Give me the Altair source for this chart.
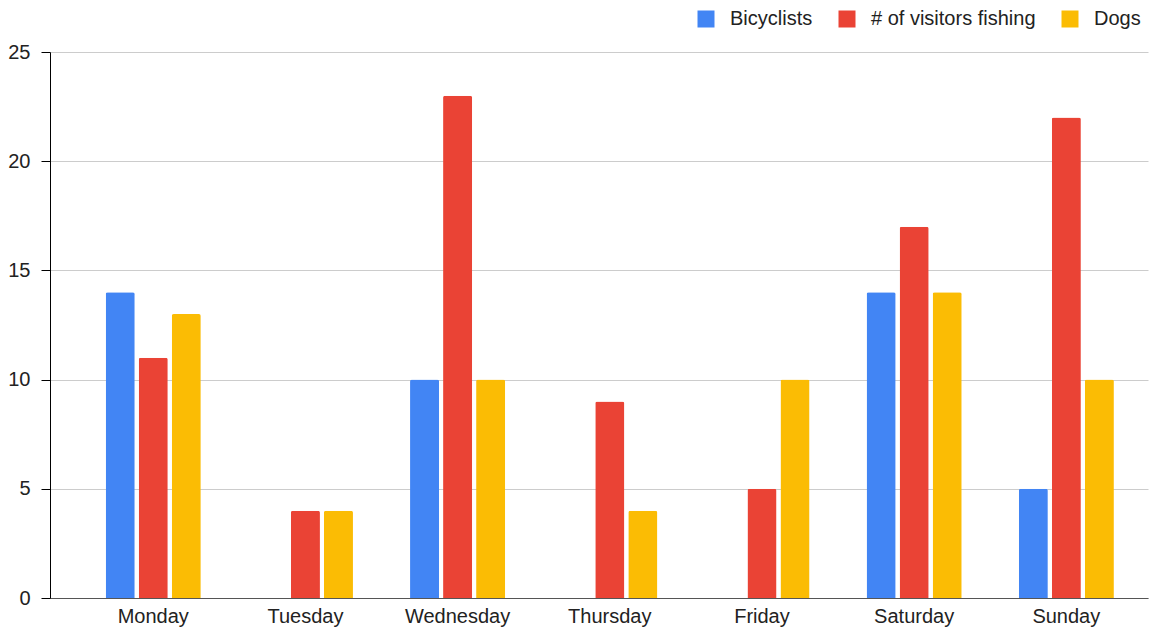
import altair as alt
import pandas as pd

days = ["Monday", "Tuesday", "Wednesday", "Thursday", "Friday", "Saturday", "Sunday"]
series = ["Bicyclists", "# of visitors fishing", "Dogs"]
bicyclists = [14, 0, 10, 0, 0, 14, 5]
fishing = [11, 4, 23, 9, 5, 17, 22]
dogs = [13, 4, 10, 4, 10, 14, 10]
colors = ["#4285F4", "#EA4335", "#FBBC04"]

rows = []
for i, d in enumerate(days):
    for s, vals in zip(series, [bicyclists, fishing, dogs]):
        rows.append({"Day": d, "Series": s, "Value": vals[i]})
df = pd.DataFrame(rows)

FONT = "Liberation Sans"
FS = 20

bars = alt.Chart(df).mark_bar(cornerRadiusTopLeft=2, cornerRadiusTopRight=2).encode(
    x=alt.X("Day:N", sort=days, title=None,
            scale=alt.Scale(paddingInner=0.375, paddingOuter=0.295, align=0.62),
            axis=alt.Axis(labelAngle=0, ticks=False, labelPadding=8, domainColor="#555555",
                          labelFontSize=FS, labelColor="#222222", labelFont=FONT, grid=False)),
    xOffset=alt.XOffset("Series:N", sort=series, scale=alt.Scale(paddingInner=0.12)),
    y=alt.Y("Value:Q", title=None,
            scale=alt.Scale(domain=[0, 25]),
            axis=alt.Axis(values=[0, 5, 10, 15, 20, 25], tickSize=9, tickColor="#000000",
                          domainColor="#000000", labelPadding=11, labelFontSize=FS,
                          labelColor="#222222", labelFont=FONT, gridColor="#cccccc")),
    color=alt.Color("Series:N", sort=series,
                    scale=alt.Scale(domain=series, range=colors),
                    legend=alt.Legend(title=None, orient="none", direction="horizontal",
                                      legendX=646, legendY=-43, symbolType="square",
                                      symbolSize=289, symbolStrokeWidth=0, labelFontSize=FS,
                                      labelFont=FONT, labelColor="#222222", labelOffset=14,
                                      labelLimit=400, columnPadding=24, symbolOpacity=1)),
)

chart = bars.properties(
    width=1098, height=546,
    autosize=alt.AutoSizeParams(type="none"),
    padding={"left": 42, "top": 44, "right": 3, "bottom": 34},
).configure_view(stroke=None).configure_axis(labelFont=FONT)

chart.save("out.html", embed_options={"renderer": "svg", "actions": False})
